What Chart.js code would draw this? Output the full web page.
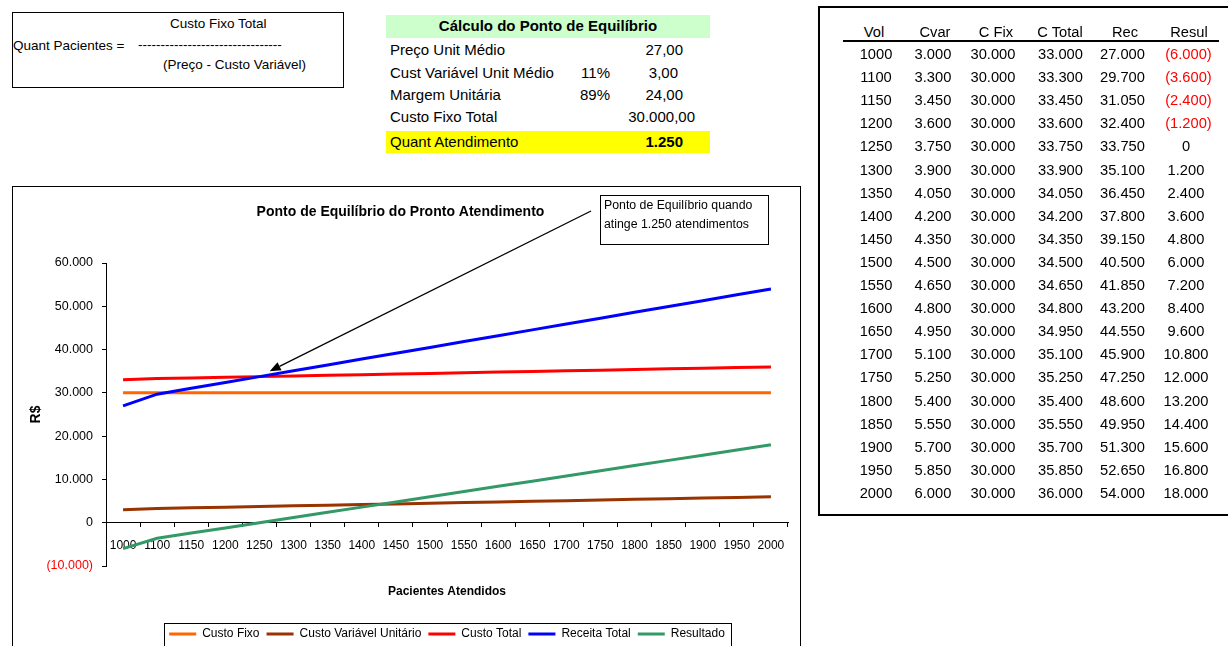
<!DOCTYPE html>
<html lang="pt-BR">
<head>
  <meta charset="UTF-8"/>
  <title>Ponto de Equilíbrio</title>
  <script src="https://cdn.jsdelivr.net/npm/chart.js"></script>
  <style>
    body { margin: 0; width: 1228px; height: 646px; overflow: hidden; background: #fff; color: #000;
           font-family: 'Liberation Sans', Arial, sans-serif; position: relative; }
    .box { position: absolute; border: 1px solid #000; box-sizing: border-box; }
    .fill { position: absolute; }
    .t { position: absolute; white-space: nowrap; line-height: 18px; height: 18px; }
    #pe { position: absolute; left: 13px; top: 188px; }
  </style>
</head>
<body>

<!-- formula box -->
<div class="box" style="left:12px;top:12px;width:332px;height:76px;"></div>

<!-- break-even calc block -->
<div class="fill" style="left:386px;top:15px;width:324px;height:23px;background:#ccffcc;"></div>
<div class="fill" style="left:386px;top:131px;width:324px;height:22px;background:#ffff00;"></div>

<!-- data table -->
<div class="box" style="left:818px;top:6px;width:420px;height:510px;border-width:2px;"></div>
<div class="fill" style="left:843px;top:40px;width:376px;height:2px;background:#000;"></div>

<!-- chart -->
<div class="box" style="left:12px;top:186px;width:789px;height:520px;border-width:1.5px;"></div>
<canvas id="pe" width="786" height="462"></canvas>

<script>
// ---- data ----
const vol    = [1000, 1100, 1150, 1200, 1250, 1300, 1350, 1400, 1450, 1500, 1550, 1600, 1650, 1700, 1750, 1800, 1850, 1900, 1950, 2000];
const cvar   = [3000, 3300, 3450, 3600, 3750, 3900, 4050, 4200, 4350, 4500, 4650, 4800, 4950, 5100, 5250, 5400, 5550, 5700, 5850, 6000];
const cfix   = [30000, 30000, 30000, 30000, 30000, 30000, 30000, 30000, 30000, 30000, 30000, 30000, 30000, 30000, 30000, 30000, 30000, 30000, 30000, 30000];
const ctotal = [33000, 33300, 33450, 33600, 33750, 33900, 34050, 34200, 34350, 34500, 34650, 34800, 34950, 35100, 35250, 35400, 35550, 35700, 35850, 36000];
const rec    = [27000, 29700, 31050, 32400, 33750, 35100, 36450, 37800, 39150, 40500, 41850, 43200, 44550, 45900, 47250, 48600, 49950, 51300, 52650, 54000];
const resul  = [-6000, -3600, -2400, -1200, 0, 1200, 2400, 3600, 4800, 6000, 7200, 8400, 9600, 10800, 12000, 13200, 14400, 15600, 16800, 18000];

const seriesNames  = ['Custo Fixo', 'Custo Variável Unitário', 'Custo Total', 'Receita Total', 'Resultado'];
const seriesColors = ['#ff6600', '#993300', '#ff0000', '#0000ff', '#339966'];

const tableHead = ['Vol', 'Cvar', 'C Fix', 'C Total', 'Rec', 'Resul'];

const calcLabels = ['Preço Unit Médio', 'Cust Variável Unit Médio', 'Margem Unitária', 'Custo Fixo Total', 'Quant Atendimento'];
const calcPct    = ['', '11%', '89%', '', ''];
const calcVals   = ['27,00', '3,00', '24,00', '30.000,00', '1.250'];

const noteText = ['Ponto de Equilíbrio quando', 'atinge 1.250 atendimentos'];
const breakEven = { vol: 1250, value: 35000 };

// ---- helpers ----
const fmt = v => String(Math.abs(v)).replace(/\B(?=(\d{3})+(?!\d))/g, '.');
const fmtSigned = v => v < 0 ? '(' + fmt(v) + ')' : fmt(v);

function put(txt, x, y, o = {}) {
  const d = document.createElement('div');
  const a = o.align || 'left';
  const w = 400;
  d.className = 't';
  d.textContent = txt;
  d.style.left = (a === 'left' ? x : a === 'right' ? x - w : x - w / 2) + 'px';
  d.style.width = w + 'px';
  d.style.textAlign = a;
  d.style.top = (y - 9) + 'px';
  d.style.fontSize = (o.size || 15) + 'px';
  if (o.bold) d.style.fontWeight = 'bold';
  if (o.color) d.style.color = o.color;
  document.body.appendChild(d);
}

// formula box
put('Custo Fixo Total', 170, 24, { size: 13.5 });
put('Quant Pacientes =', 13, 46, { size: 13.5 });
put('--------------------------------', 138, 45, { size: 13.5 });
put('(Preço - Custo Variável)', 163, 65, { size: 13.5 });

// calc block
put('Cálculo do Ponto de Equilíbrio', 548, 26, { align: 'center', bold: true });
const calcY = [50, 72.7, 95, 117.3, 141.7];
const calcRight = [683, 678, 683, 695, 683];
calcLabels.forEach((l, i) => {
  put(l, 390, calcY[i]);
  if (calcPct[i]) put(calcPct[i], 610, calcY[i], { align: 'right' });
  put(calcVals[i], calcRight[i], calcY[i], { align: 'right', bold: i === 4 });
});

// data table
const headX = [874, 935, 996, 1060, 1125, 1189];
const colX = [876, 933, 993, 1060.5, 1122.5, 1186];
tableHead.forEach((h, i) => put(h, headX[i], 31.5, { align: 'center', size: 14.7 }));
vol.forEach((v, r) => {
  const y = 54 + 23.1 * r;
  const row = [String(v), fmt(cvar[r]), fmt(cfix[r]), fmt(ctotal[r]), fmt(rec[r])];
  row.forEach((s, c) => put(s, colX[c], y, { align: 'center', size: 14.7 }));
  const res = resul[r];
  if (res < 0) put(fmtSigned(res), colX[5] + 2.5, y, { align: 'center', size: 14.7, color: '#ff0000' });
  else put(res === 0 ? '0' : fmt(res), colX[5], y, { align: 'center', size: 14.7 });
});

// ---- chart ----
Chart.defaults.font.family = "'Liberation Sans', Arial, sans-serif";
Chart.defaults.color = '#000';

const notePlugin = {
  id: 'note',
  afterDatasetsDraw(chart) {
    const { ctx, chartArea, scales: { x, y } } = chart;
    const bx = Math.round(x.getPixelForValue(vol.indexOf(1750))), by = chartArea.top - 68;
    const bw = 168, bh = 49;
    ctx.save();
    ctx.fillStyle = '#fff';
    ctx.fillRect(bx, by, bw, bh);
    ctx.strokeStyle = '#000';
    ctx.lineWidth = 1;
    ctx.strokeRect(bx + 0.5, by + 0.5, bw, bh);
    ctx.fillStyle = '#000';
    ctx.font = "12.3px 'Liberation Sans', Arial, sans-serif";
    ctx.textBaseline = 'middle';
    noteText.forEach((t, i) => ctx.fillText(t, bx + 4, by + 11 + i * 19));

    // arrow to the break-even point
    const tx = x.getPixelForValue(vol.indexOf(breakEven.vol) + 0.3);
    const ty = y.getPixelForValue(breakEven.value);
    const sx = bx - 9, sy = by + 16;
    const ang = Math.atan2(ty - sy, tx - sx);
    const hl = 11, hw = 4.5;
    const hx = tx - hl * Math.cos(ang), hy = ty - hl * Math.sin(ang);
    ctx.beginPath();
    ctx.moveTo(sx, sy);
    ctx.lineTo(hx, hy);
    ctx.lineWidth = 1.3;
    ctx.stroke();
    ctx.beginPath();
    ctx.moveTo(tx, ty);
    ctx.lineTo(hx + hw * Math.sin(ang), hy - hw * Math.cos(ang));
    ctx.lineTo(hx - hw * Math.sin(ang), hy + hw * Math.cos(ang));
    ctx.closePath();
    ctx.fill();
    ctx.restore();
  }
};

const legendFrame = {
  id: 'legendFrame',
  afterDraw(chart) {
    const boxes = chart.legend.legendHitBoxes;
    if (!boxes || !boxes.length) return;
    const l = Math.min(...boxes.map(b => b.left)) - 5;
    const r = Math.max(...boxes.map(b => b.left + b.width)) + 6;
    const t = boxes[0].top - 5;
    const b = boxes[0].top + boxes[0].height + 6;
    const ctx = chart.ctx;
    ctx.save();
    ctx.strokeStyle = '#000';
    ctx.lineWidth = 1;
    ctx.strokeRect(Math.round(l) + 0.5, Math.round(t) + 0.5, Math.round(r - l), Math.round(b - t));
    ctx.restore();
  }
};

const seriesData = [cfix, cvar, ctotal, rec, resul];

new Chart(document.getElementById('pe'), {
  type: 'line',
  data: {
    labels: vol.map(String),
    datasets: seriesData.map((d, i) => ({
      label: seriesNames[i],
      data: d,
      borderColor: seriesColors[i],
      backgroundColor: seriesColors[i],
      borderWidth: 3,
      pointRadius: 0,
      tension: 0,
      order: seriesData.length - i
    }))
  },
  options: {
    responsive: false,
    devicePixelRatio: 1,
    animation: false,
    layout: { padding: { left: 0, right: 11, top: 0, bottom: 0 } },
    plugins: {
      tooltip: { enabled: false },
      title: {
        display: true,
        text: 'Ponto de Equilíbrio do Pronto Atendimento',
        font: { size: 14, weight: 'bold' },
        color: '#000',
        padding: { top: 16, bottom: 42.2 }
      },
      legend: {
        position: 'bottom',
        fullSize: false,
        title: { display: true, text: '', font: { size: 10 }, padding: { top: 43, bottom: 0 } },
        labels: {
          usePointStyle: true,
          pointStyle: 'line',
          pointStyleWidth: 27,
          font: { size: 12 },
          color: '#000',
          padding: 7,
          sort: (a, b) => a.datasetIndex - b.datasetIndex
        }
      }
    },
    scales: {
      x: {
        type: 'category',
        position: { y: 0 },
        offset: true,
        grid: { display: true, drawOnChartArea: false, drawTicks: true, tickLength: 4, color: '#000', offset: true },
        border: { display: true, color: '#000', width: 1 },
        ticks: { font: { size: 12 }, color: '#000', padding: 12, autoSkip: false, maxRotation: 0, minRotation: 0 },
        title: {
          display: true,
          text: 'Pacientes Atendidos',
          font: { size: 12, weight: 'bold' },
          color: '#000',
          padding: { top: 31, bottom: 4 }
        },
        afterFit: s => { s.height = 80; }
      },
      y: {
        min: -10000,
        max: 60000,
        grid: { display: true, drawOnChartArea: false, drawTicks: true, tickLength: 4, color: '#000' },
        border: { display: true, color: '#000', width: 1 },
        ticks: {
          stepSize: 10000,
          font: { size: 12.5 },
          padding: 9,
          color: c => c.tick && c.tick.value < 0 ? '#ff0000' : '#000',
          callback: v => fmtSigned(v)
        },
        title: {
          display: true,
          text: 'R$',
          font: { size: 14, weight: 'bold' },
          color: '#000',
          padding: { top: 15, bottom: 0 }
        },
        afterFit: s => { s.width = 93; }
      }
    }
  },
  plugins: [notePlugin, legendFrame]
});
</script>
</body>
</html>
